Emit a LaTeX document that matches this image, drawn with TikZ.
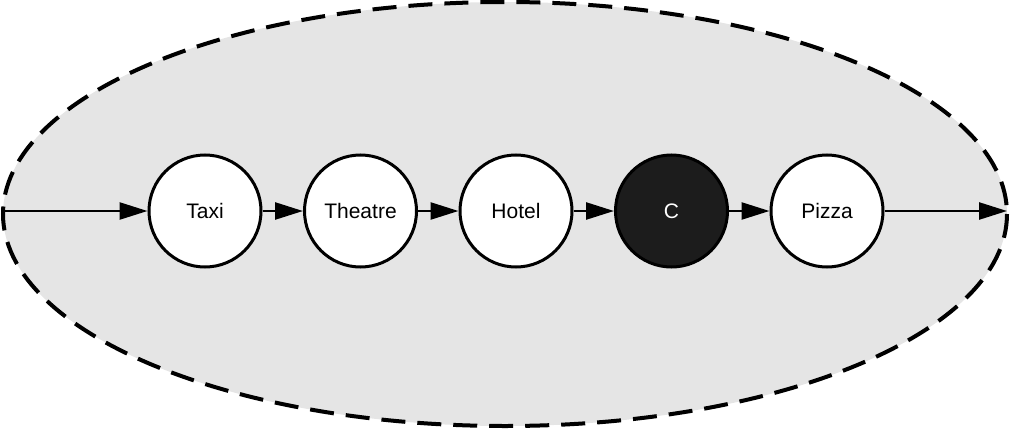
\documentclass[tikz,border=0pt]{standalone}
\usepackage{fontspec}
\setmainfont{Liberation Sans}
\usetikzlibrary{arrows.meta}
\definecolor{zonegray}{HTML}{E5E5E5}
\definecolor{darkstate}{HTML}{1C1C1C}
\begin{document}
\begin{tikzpicture}[x=1pt,y=-1pt,
  state/.style={circle,draw=black,line width=3pt,fill=white,minimum size=112pt,inner sep=0pt,font=\fontsize{21}{25}\selectfont},
  darkst/.style={state,fill=darkstate,text=white},
  link/.style={line width=2.5pt,-{Triangle[length=28pt,width=17pt]}}]
\useasboundingbox (0,0) rectangle (1010,431);
% dashed boundary of the zone
\draw[fill=zonegray,line width=4pt,dash pattern=on 24pt off 12pt] (505,214) ellipse [x radius=502, y radius=212];
\coordinate (in) at (3,211);
\coordinate (out) at (1007,211);
\node[state] (taxi) at (205,211) {Taxi};
\node[state] (theatre) at (360.5,211) {Theatre};
\node[state] (hotel) at (516,211) {Hotel};
\node[darkst] (c) at (671.5,211) {C};
\node[state] (pizza) at (827,211) {Pizza};
\draw[link] (in) -- (taxi);
\draw[link] (taxi) -- (theatre);
\draw[link] (theatre) -- (hotel);
\draw[link] (hotel) -- (c);
\draw[link] (c) -- (pizza);
\draw[link] (pizza) -- (out);
\end{tikzpicture}
\end{document}
